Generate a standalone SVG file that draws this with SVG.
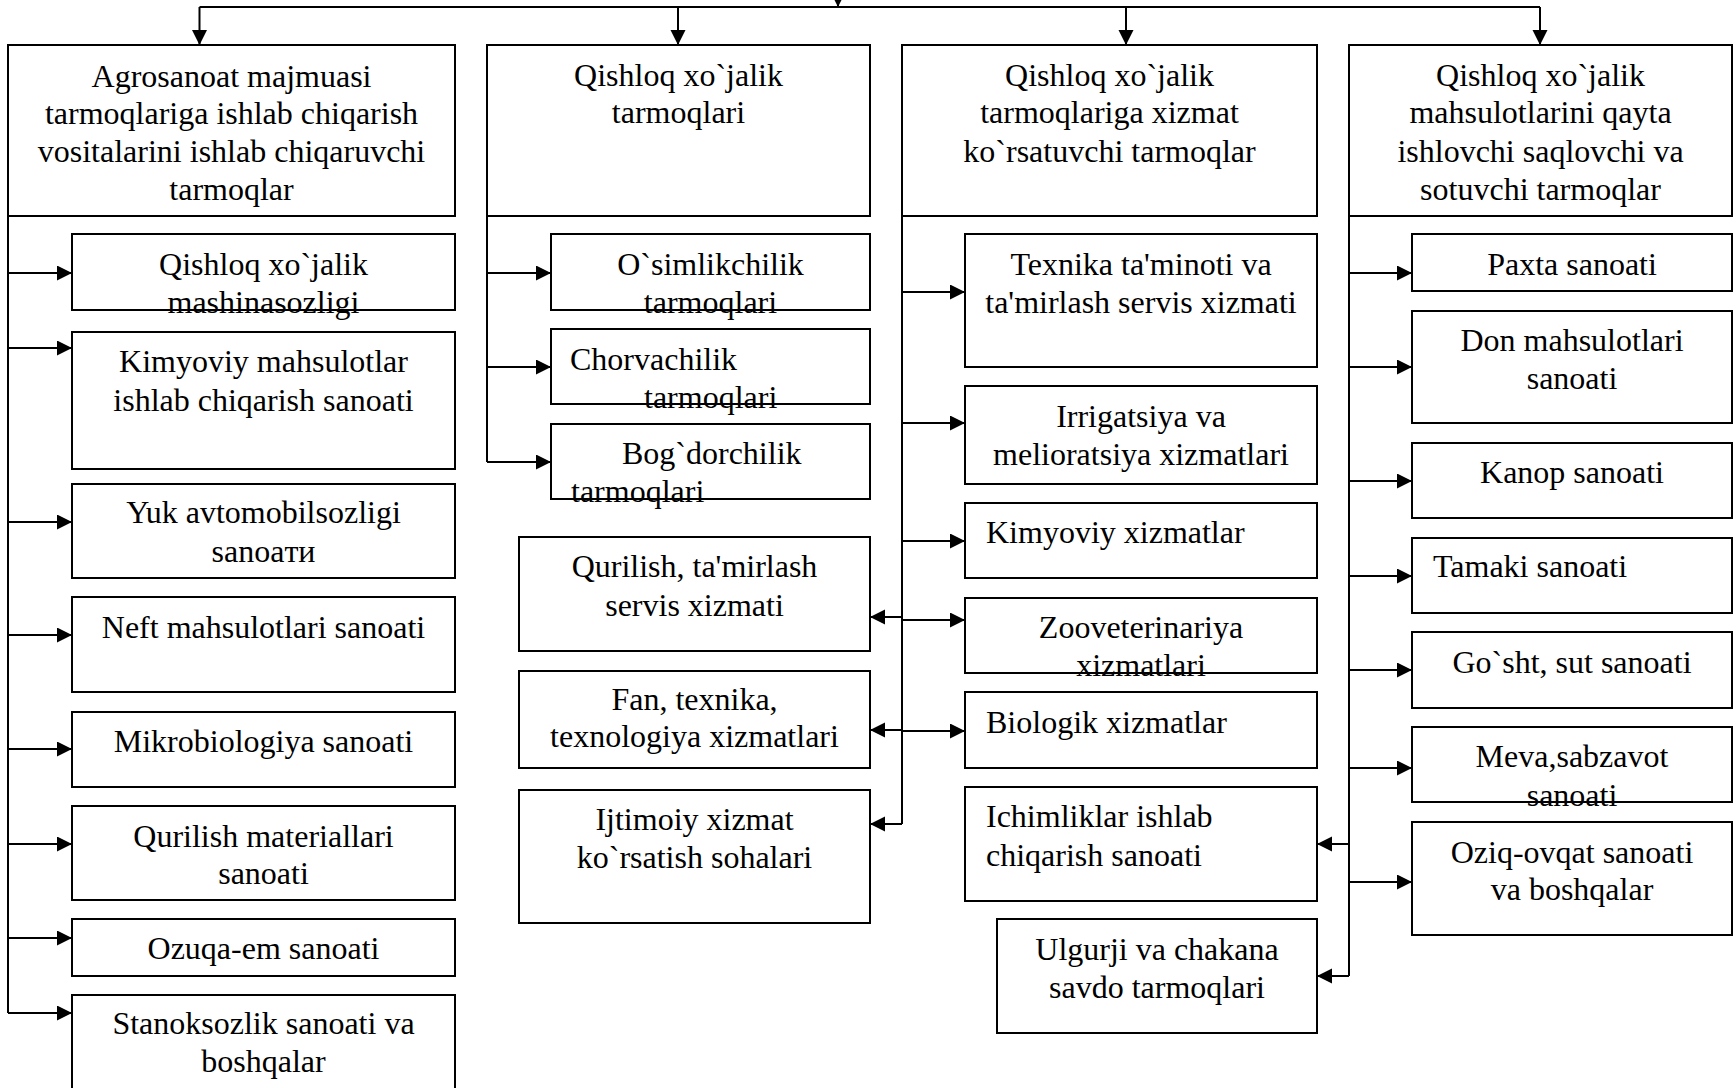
<svg xmlns="http://www.w3.org/2000/svg" width="1736" height="1088" viewBox="0 0 1736 1088">
<style>
.b{fill:#fff;stroke:#000;stroke-width:2}
.t{font-family:"Liberation Serif","Times New Roman",serif;font-size:32px;fill:#000}
.c{text-anchor:middle}
.l{fill:none;stroke:#000;stroke-width:2}
</style>
<defs>
<marker id="ah" markerWidth="16" markerHeight="16" refX="15" refY="7.5" orient="auto" markerUnits="userSpaceOnUse"><path d="M0,0 L15,7.5 L0,15 z" fill="#000"/></marker>
</defs>
<rect width="1736" height="1088" fill="#fff"/>
<g id="connectors">
<path class="l" d="M199.5,7 H1540"/>
<path class="l" d="M838,-12 V7" marker-end="url(#ah)"/>
<path class="l" d="M199.5,7 V45" marker-end="url(#ah)"/>
<path class="l" d="M678,7 V45" marker-end="url(#ah)"/>
<path class="l" d="M1126,7 V45" marker-end="url(#ah)"/>
<path class="l" d="M1540,7 V45" marker-end="url(#ah)"/>
<path class="l" d="M8,216 V1013"/>
<path class="l" d="M8,273 H72" marker-end="url(#ah)"/>
<path class="l" d="M8,348 H72" marker-end="url(#ah)"/>
<path class="l" d="M8,522 H72" marker-end="url(#ah)"/>
<path class="l" d="M8,635 H72" marker-end="url(#ah)"/>
<path class="l" d="M8,749 H72" marker-end="url(#ah)"/>
<path class="l" d="M8,844 H72" marker-end="url(#ah)"/>
<path class="l" d="M8,938 H72" marker-end="url(#ah)"/>
<path class="l" d="M8,1013 H72" marker-end="url(#ah)"/>
<path class="l" d="M487,216 V462"/>
<path class="l" d="M487,273 H551" marker-end="url(#ah)"/>
<path class="l" d="M487,367 H551" marker-end="url(#ah)"/>
<path class="l" d="M487,462 H551" marker-end="url(#ah)"/>
<path class="l" d="M902,216 V824"/>
<path class="l" d="M902,292 H965" marker-end="url(#ah)"/>
<path class="l" d="M902,423 H965" marker-end="url(#ah)"/>
<path class="l" d="M902,541 H965" marker-end="url(#ah)"/>
<path class="l" d="M902,620 H965" marker-end="url(#ah)"/>
<path class="l" d="M902,731 H965" marker-end="url(#ah)"/>
<path class="l" d="M902,617 H870" marker-end="url(#ah)"/>
<path class="l" d="M902,730 H870" marker-end="url(#ah)"/>
<path class="l" d="M902,824 H870" marker-end="url(#ah)"/>
<path class="l" d="M1349,216 V976"/>
<path class="l" d="M1349,273 H1412" marker-end="url(#ah)"/>
<path class="l" d="M1349,367 H1412" marker-end="url(#ah)"/>
<path class="l" d="M1349,481 H1412" marker-end="url(#ah)"/>
<path class="l" d="M1349,576 H1412" marker-end="url(#ah)"/>
<path class="l" d="M1349,670 H1412" marker-end="url(#ah)"/>
<path class="l" d="M1349,768 H1412" marker-end="url(#ah)"/>
<path class="l" d="M1349,882 H1412" marker-end="url(#ah)"/>
<path class="l" d="M1349,844 H1317" marker-end="url(#ah)"/>
<path class="l" d="M1349,976 H1317" marker-end="url(#ah)"/>
</g>
<g id="n1"><rect class="b" x="8" y="45" width="447" height="171"/>
<text class="t c" x="231.5" y="87">Agrosanoat majmuasi</text>
<text class="t c" x="231.5" y="124">tarmoqlariga ishlab chiqarish</text>
<text class="t c" x="231.5" y="162">vositalarini ishlab chiqaruvchi</text>
<text class="t c" x="231.5" y="200">tarmoqlar</text></g>
<g id="n2"><rect class="b" x="487" y="45" width="383" height="171"/>
<text class="t c" x="678.5" y="86">Qishloq xo`jalik</text>
<text class="t c" x="678.5" y="123">tarmoqlari</text></g>
<g id="n3"><rect class="b" x="902" y="45" width="415" height="171"/>
<text class="t c" x="1109.5" y="86">Qishloq xo`jalik</text>
<text class="t c" x="1109.5" y="123">tarmoqlariga xizmat</text>
<text class="t c" x="1109.5" y="162">ko`rsatuvchi tarmoqlar</text></g>
<g id="n4"><rect class="b" x="1349" y="45" width="383" height="171"/>
<text class="t c" x="1540.5" y="86">Qishloq xo`jalik</text>
<text class="t c" x="1540.5" y="123">mahsulotlarini qayta</text>
<text class="t c" x="1540.5" y="162">ishlovchi saqlovchi va</text>
<text class="t c" x="1540.5" y="200">sotuvchi tarmoqlar</text></g>

<g id="c1a"><rect class="b" x="72" y="234" width="383" height="76"/>
<text class="t c" x="263.5" y="275">Qishloq xo`jalik</text>
<text class="t c" x="263.5" y="313">mashinasozligi</text></g>
<g id="c1b"><rect class="b" x="72" y="332" width="383" height="137"/>
<text class="t c" x="263.5" y="372">Kimyoviy mahsulotlar</text>
<text class="t c" x="263.5" y="411">ishlab chiqarish sanoati</text></g>
<g id="c1c"><rect class="b" x="72" y="484" width="383" height="94"/>
<text class="t c" x="263.5" y="523">Yuk avtomobilsozligi</text>
<text class="t c" x="263.5" y="562">sanoaти</text></g>
<g id="c1d"><rect class="b" x="72" y="597" width="383" height="95"/>
<text class="t c" x="263.5" y="638">Neft mahsulotlari sanoati</text></g>
<g id="c1e"><rect class="b" x="72" y="712" width="383" height="75"/>
<text class="t c" x="263.5" y="752">Mikrobiologiya sanoati</text></g>
<g id="c1f"><rect class="b" x="72" y="806" width="383" height="94"/>
<text class="t c" x="263.5" y="847">Qurilish materiallari</text>
<text class="t c" x="263.5" y="884">sanoati</text></g>
<g id="c1g"><rect class="b" x="72" y="919" width="383" height="57"/>
<text class="t c" x="263.5" y="959">Ozuqa-em sanoati</text></g>
<g id="c1h"><rect class="b" x="72" y="995" width="383" height="110"/>
<text class="t c" x="263.5" y="1034">Stanoksozlik sanoati va</text>
<text class="t c" x="263.5" y="1072">boshqalar</text></g>

<g id="c2a"><rect class="b" x="551" y="234" width="319" height="76"/>
<text class="t c" x="710.5" y="275">O`simlikchilik</text>
<text class="t c" x="710.5" y="313">tarmoqlari</text></g>
<g id="c2b"><rect class="b" x="551" y="329" width="319" height="75"/>
<text class="t" x="570" y="370">Chorvachilik</text>
<text class="t" x="644" y="408">tarmoqlari</text></g>
<g id="c2c"><rect class="b" x="551" y="424" width="319" height="75"/>
<text class="t" x="622" y="464">Bog`dorchilik</text>
<text class="t" x="571" y="502">tarmoqlari</text></g>
<g id="c2d"><rect class="b" x="519" y="537" width="351" height="114"/>
<text class="t c" x="694.5" y="577">Qurilish, ta'mirlash</text>
<text class="t c" x="694.5" y="616">servis xizmati</text></g>
<g id="c2e"><rect class="b" x="519" y="671" width="351" height="97"/>
<text class="t c" x="694.5" y="710">Fan, texnika,</text>
<text class="t c" x="694.5" y="747">texnologiya xizmatlari</text></g>
<g id="c2f"><rect class="b" x="519" y="790" width="351" height="133"/>
<text class="t c" x="694.5" y="830">Ijtimoiy xizmat</text>
<text class="t c" x="694.5" y="868">ko`rsatish sohalari</text></g>

<g id="c3a"><rect class="b" x="965" y="234" width="352" height="133"/>
<text class="t c" x="1141" y="275">Texnika ta'minoti va</text>
<text class="t c" x="1141" y="313">ta'mirlash servis xizmati</text></g>
<g id="c3b"><rect class="b" x="965" y="386" width="352" height="98"/>
<text class="t c" x="1141" y="427">Irrigatsiya va</text>
<text class="t c" x="1141" y="465">melioratsiya xizmatlari</text></g>
<g id="c3c"><rect class="b" x="965" y="503" width="352" height="75"/>
<text class="t" x="986" y="543">Kimyoviy xizmatlar</text></g>
<g id="c3d"><rect class="b" x="965" y="598" width="352" height="75"/>
<text class="t c" x="1141" y="638">Zooveterinariya</text>
<text class="t c" x="1141" y="676">xizmatlari</text></g>
<g id="c3e"><rect class="b" x="965" y="692" width="352" height="76"/>
<text class="t" x="986" y="733">Biologik xizmatlar</text></g>
<g id="c3f"><rect class="b" x="965" y="787" width="352" height="114"/>
<text class="t" x="986" y="827">Ichimliklar ishlab</text>
<text class="t" x="986" y="866">chiqarish sanoati</text></g>
<g id="c3g"><rect class="b" x="997" y="919" width="320" height="114"/>
<text class="t c" x="1157" y="960">Ulgurji va chakana</text>
<text class="t c" x="1157" y="998">savdo tarmoqlari</text></g>

<g id="c4a"><rect class="b" x="1412" y="234" width="320" height="57"/>
<text class="t c" x="1572" y="275">Paxta sanoati</text></g>
<g id="c4b"><rect class="b" x="1412" y="311" width="320" height="112"/>
<text class="t c" x="1572" y="351">Don mahsulotlari</text>
<text class="t c" x="1572" y="389">sanoati</text></g>
<g id="c4c"><rect class="b" x="1412" y="443" width="320" height="75"/>
<text class="t c" x="1572" y="483">Kanop sanoati</text></g>
<g id="c4d"><rect class="b" x="1412" y="538" width="320" height="75"/>
<text class="t" x="1433" y="577">Tamaki sanoati</text></g>
<g id="c4e"><rect class="b" x="1412" y="632" width="320" height="76"/>
<text class="t c" x="1572" y="673">Go`sht, sut sanoati</text></g>
<g id="c4f"><rect class="b" x="1412" y="727" width="320" height="75"/>
<text class="t c" x="1572" y="767">Meva,sabzavot</text>
<text class="t c" x="1572" y="806">sanoati</text></g>
<g id="c4g"><rect class="b" x="1412" y="822" width="320" height="113"/>
<text class="t c" x="1572" y="863">Oziq-ovqat sanoati</text>
<text class="t c" x="1572" y="900">va boshqalar</text></g>
</svg>
